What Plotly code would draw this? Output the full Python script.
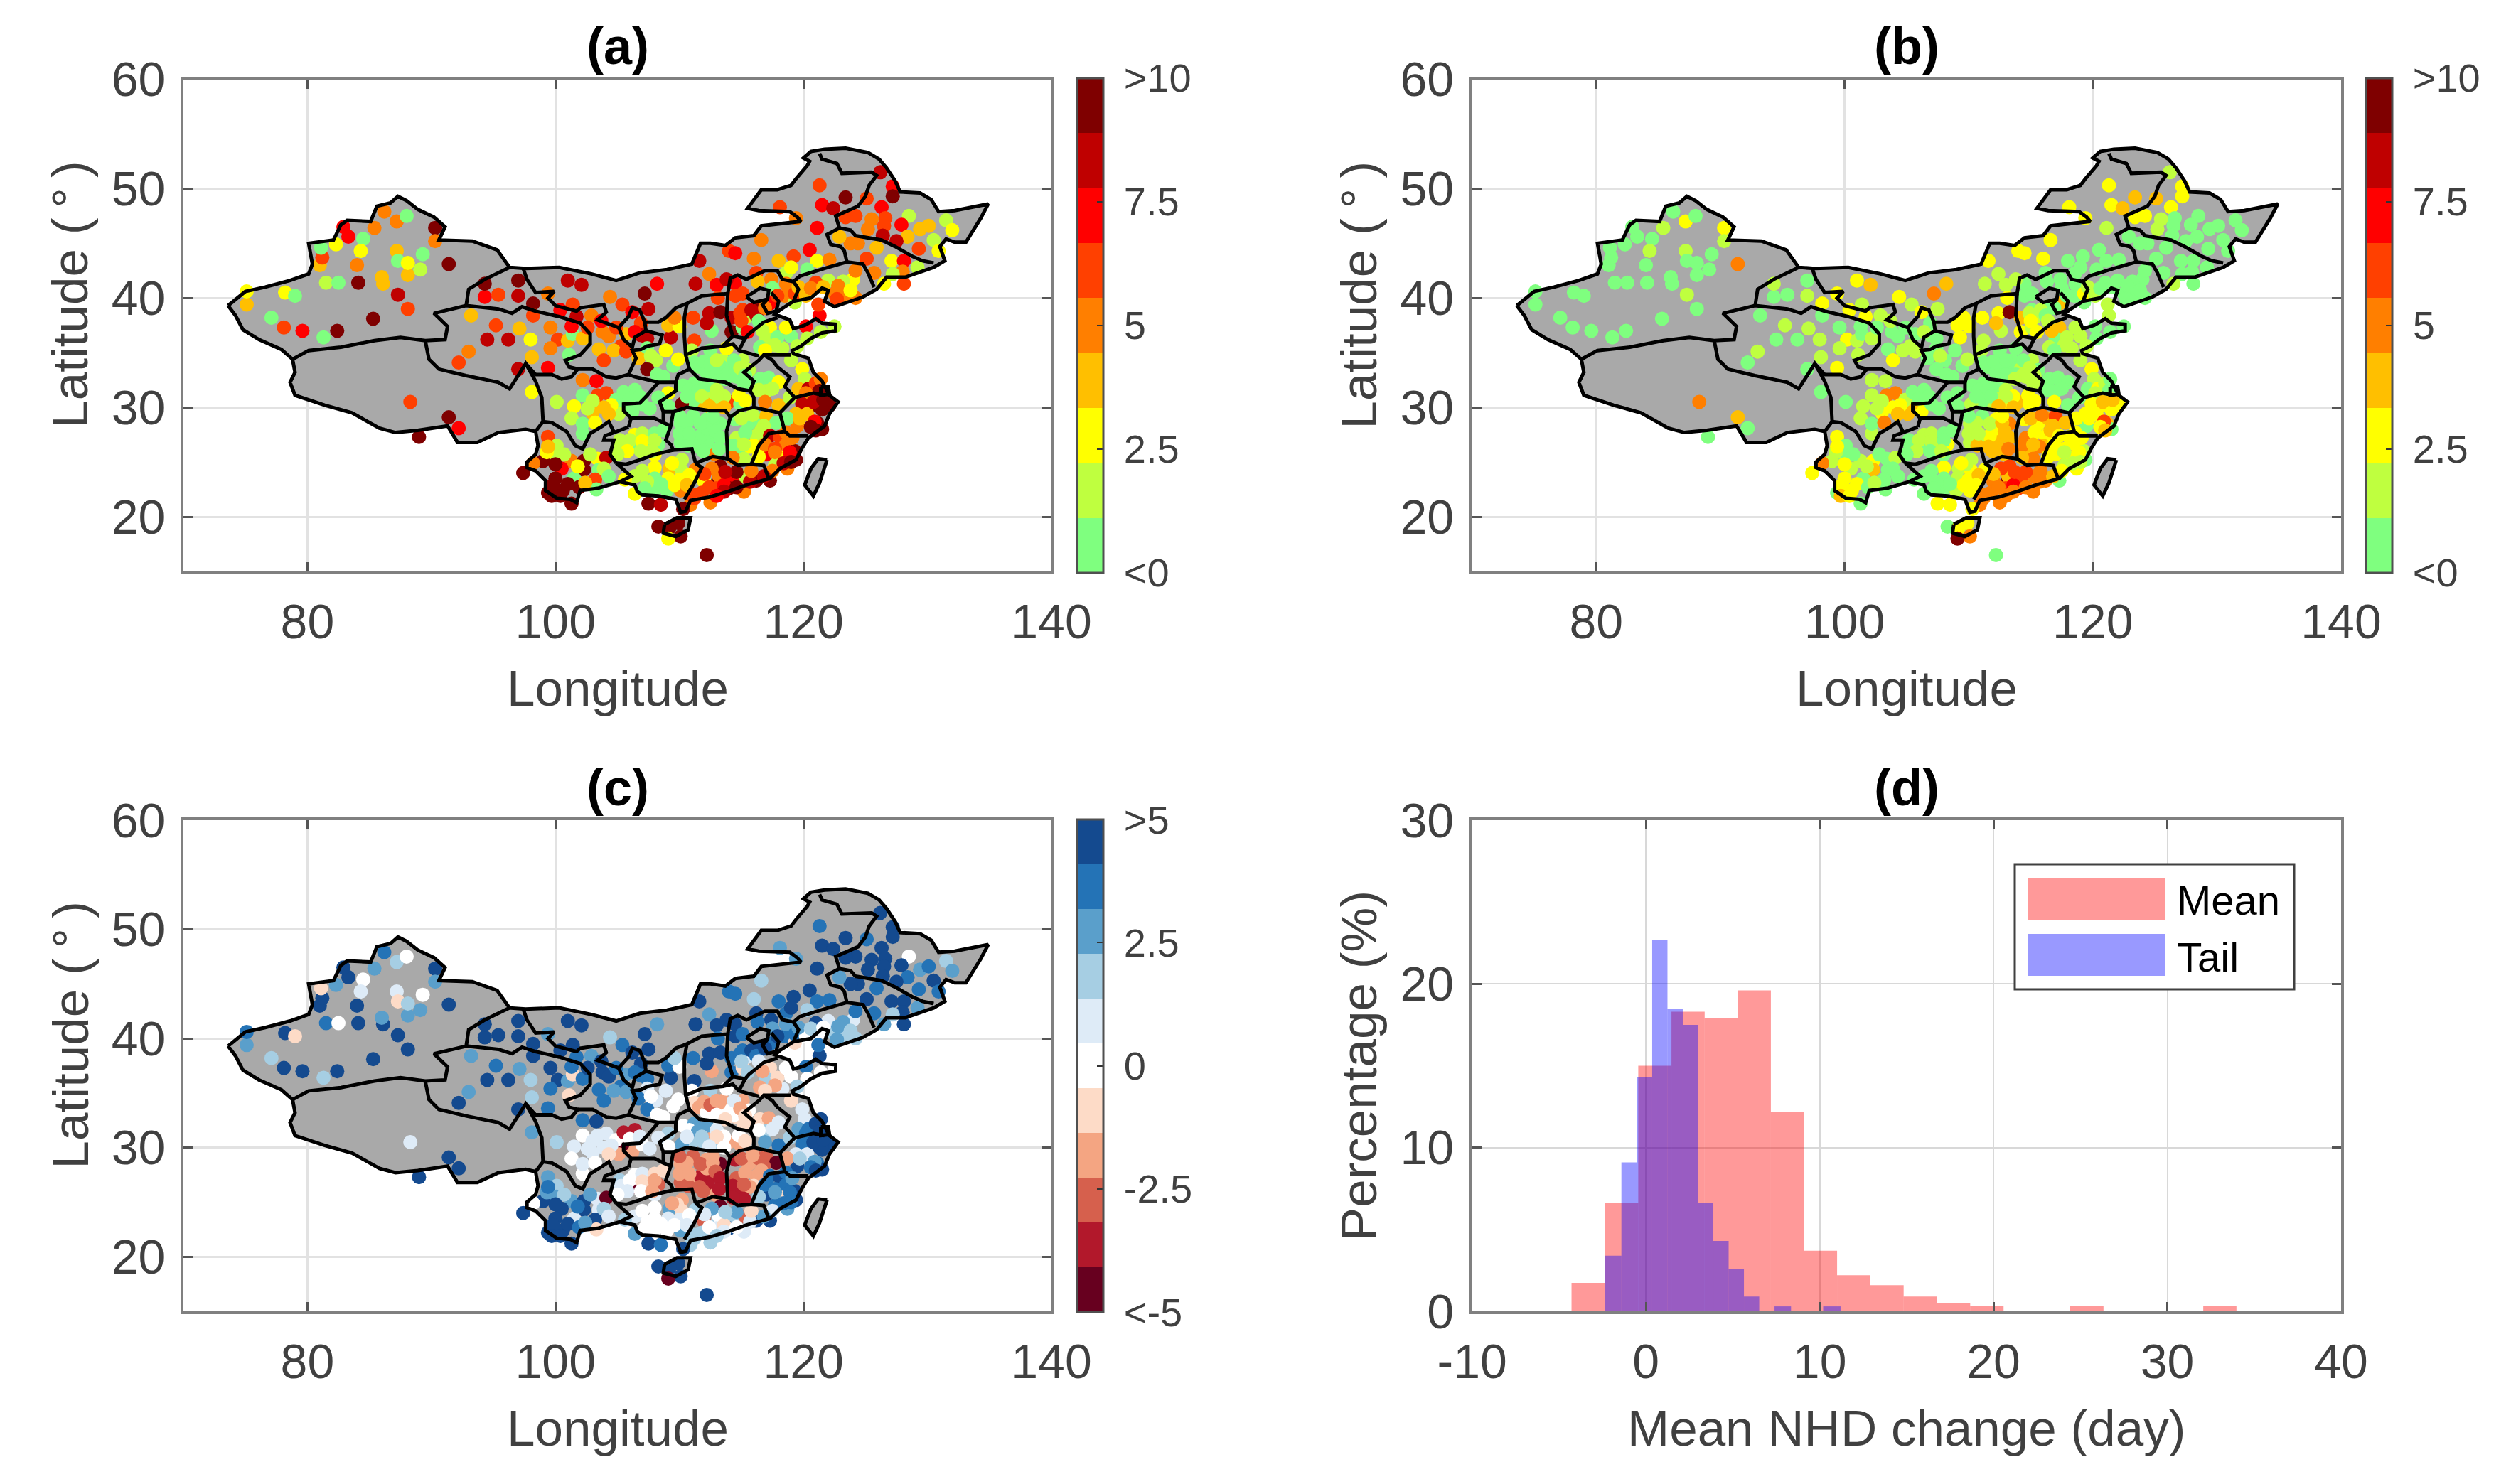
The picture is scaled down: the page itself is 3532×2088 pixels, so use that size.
import plotly.graph_objects as go

W, H = 3532, 2088
PAGE_INSET = 8  # the page's default body margin shifts the whole figure by this many pixels

# ---- map geometry (lon, lat) ----
CHINA_LON = [73.6,75.0,76.6,78.6,80.1,80.4,80.1,82.1,82.7,83.2,85.1,85.6,86.7,87.3,88.0,88.9,90.2,91.1,90.6,93.3,95.3,96.3,97.6,100.3,102.9,104.9,106.8,109.0,111.0,111.7,112.5,113.7,114.5,116.0,116.6,118.1,119.8,119.5,118.9,116.4,115.5,116.6,117.9,119.0,119.4,120.3,120.5,120.0,120.6,121.7,123.4,125.2,126.1,126.7,127.4,127.8,129.4,130.3,130.9,132.2,133.4,134.9,134.3,133.1,132.2,131.5,131.0,131.4,130.5,129.7,128.8,128.2,126.7,125.9,124.8,123.6,122.5,121.7,122.0,121.5,120.6,119.2,118.1,117.7,118.9,119.2,120.1,121.0,121.5,122.6,122.6,121.5,120.6,119.8,119.1,119.2,120.4,120.8,121.5,121.9,122.1,122.8,122.1,121.7,120.4,119.9,119.4,118.1,117.3,115.4,113.9,112.4,110.9,110.5,110.1,109.7,108.3,107.0,106.6,106.4,105.2,103.4,102.0,101.7,101.2,100.1,99.2,99.2,98.4,97.7,97.7,98.4,98.6,98.4,97.6,95.4,93.7,92.1,91.3,88.9,87.1,85.8,83.6,81.4,79.0,78.6,79.0,78.8,77.9,76.1,74.8,74.2,73.6]
CHINA_LAT = [39.3,40.6,41.0,41.6,42.2,43.1,45.0,45.3,46.7,47.1,47.0,48.4,48.7,49.3,48.9,48.1,47.4,46.5,45.3,45.2,44.4,42.8,42.7,42.8,42.2,41.6,42.3,42.6,43.1,45.0,45.0,44.8,45.5,45.7,46.6,46.8,47.0,47.4,47.9,48.0,48.2,49.9,49.9,50.3,50.9,52.1,52.5,52.8,53.4,53.6,53.7,53.3,52.7,51.9,50.7,49.7,49.6,49.0,47.9,48.0,48.3,48.6,47.3,45.1,45.1,45.4,44.7,43.4,42.8,42.5,42.1,41.9,41.9,40.8,40.1,39.6,39.2,39.7,40.7,40.9,40.0,39.7,38.9,38.5,38.0,37.2,37.5,38.1,37.7,37.6,37.0,36.8,36.3,35.6,35.2,34.9,34.5,33.2,32.4,31.5,31.1,30.5,29.4,28.3,27.2,26.3,25.2,24.4,23.5,22.9,22.3,21.8,21.5,20.5,20.4,21.6,21.9,22.0,22.3,22.9,23.2,22.6,22.4,21.3,21.6,21.7,22.4,23.3,24.2,24.5,25.0,25.7,26.5,27.8,28.0,27.7,26.8,26.8,28.3,27.9,27.7,28.1,29.5,30.2,31.1,32.3,33.2,34.4,35.3,36.2,37.1,38.4,39.3]
TAIWAN_LON = [121.9,121.2,120.6,120.1,120.8,121.3,121.9]
TAIWAN_LAT = [25.2,25.3,24.4,22.9,21.9,23.1,25.2]
HAINAN_LON = [108.8,109.8,110.9,110.7,109.7,108.7,108.8]
HAINAN_LAT = [19.3,19.9,19.9,18.8,18.2,18.5,19.3]

PROVINCE_LINES = [
 [(78.8,34.4),(80.1,35.2),(82.7,35.5),(85.4,36.1),(87.5,36.4),(89.5,36.1),(91.1,36.2),(91.3,37.4),(90.2,38.6),(92.8,39.3),(93.0,40.8),(94.3,41.7),(96.3,42.8)],
 [(89.5,36.1),(89.8,34.4),(90.6,33.5),(92.8,32.9),(95.4,32.3),(96.3,31.7),(97.6,34.0),(98.4,32.4),(98.9,30.9),(99.0,29.1),(99.0,28.7),(98.4,27.8)],
 [(92.8,39.3),(95.4,39.0),(96.5,38.6),(97.3,39.2),(98.4,38.8),(100.3,38.3),(102.0,37.7),(102.8,36.7),(102.8,35.8),(102.0,34.8),(100.8,34.3),(101.1,33.7),(101.8,33.5),(101.3,32.8),(100.5,32.6),(99.7,33.0),(98.4,33.0),(97.6,34.0)],
 [(97.4,42.7),(97.7,41.7),(98.4,40.5),(99.9,40.6),(99.4,40.0),(100.0,39.3),(101.7,38.8),(102.0,39.1),(103.9,39.4),(104.1,38.7),(103.4,38.0),(105.1,37.3)],
 [(101.8,33.5),(103.0,33.5),(104.1,32.8),(104.9,32.7),(105.9,33.0),(106.1,33.5),(106.5,34.5),(106.2,35.2),(106.9,35.3),(107.4,35.6),(108.4,35.8),(108.6,36.6),(107.3,37.0)],
 [(107.3,37.0),(106.4,36.4),(106.2,35.5),(105.5,36.2),(105.1,37.3),(105.9,38.3),(106.2,39.1),(106.8,38.9),(107.2,37.8),(107.3,37.0)],
 [(107.2,37.8),(108.3,37.8),(108.9,38.2),(109.7,39.1),(110.6,39.5),(111.8,40.2),(112.7,40.3),(113.9,40.4),(114.1,41.8),(114.7,42.1),(115.4,41.7),(116.9,42.5),(117.9,42.5),(118.3,41.7),(119.2,41.5),(119.7,42.0),(121.7,42.7),(123.5,43.3),(124.8,43.1),(125.2,42.3),(125.7,41.0)],
 [(110.6,39.5),(110.4,38.2),(110.4,36.5),(110.5,34.8),(110.8,33.5),(109.9,33.0),(109.7,32.3),(108.3,32.3),(106.4,32.8),(105.9,33.0)],
 [(113.9,40.4),(113.8,38.4),(114.3,36.5),(113.5,35.6),(111.8,35.4),(110.5,34.8)],
 [(110.8,33.5),(111.6,32.6),(113.7,32.3),(114.7,31.7),(115.7,31.5),(116.0,32.4),(115.2,33.2),(116.4,34.3),(116.8,34.8),(119.0,34.8)],
 [(113.5,35.6),(114.3,35.8),(114.8,35.2),(116.4,34.7)],
 [(114.3,36.5),(115.3,36.3),(114.8,35.2)],
 [(115.3,36.3),(115.6,36.7),(116.8,37.8),(117.9,38.2)],
 [(116.8,34.8),(117.5,34.3),(117.9,33.7),(118.9,32.8),(118.5,31.9),(119.3,30.9),(120.8,31.3),(121.7,31.1)],
 [(119.3,30.9),(118.1,29.5),(116.0,30.0),(116.0,30.9),(115.7,31.5)],
 [(118.1,29.5),(118.5,27.8),(118.9,27.4),(120.4,27.4)],
 [(118.5,27.8),(117.2,27.6),(116.4,26.5),(115.8,24.8),(116.8,24.7),(117.2,23.5)],
 [(115.8,24.8),(114.7,24.7),(113.9,25.3),(112.7,25.5),(111.3,24.9),(111.8,24.5),(111.2,23.1),(110.4,21.6)],
 [(116.0,30.0),(114.8,29.7),(114.1,29.1),(113.8,27.8),(113.9,25.3)],
 [(114.1,29.1),(113.7,29.7),(112.4,29.7),(110.6,30.0),(109.5,29.6),(109.3,28.3),(108.9,27.0),(109.3,26.6),(109.5,26.1),(111.0,26.2),(111.3,24.9)],
 [(109.5,26.1),(108.0,25.7),(106.8,25.2),(105.7,24.8),(104.9,24.9),(106.1,23.7),(105.2,23.2)],
 [(104.9,24.9),(104.4,25.7),(104.7,27.0),(103.9,27.0),(104.0,27.4),(105.0,27.8),(105.9,28.2)],
 [(99.0,28.7),(99.7,28.6),(100.9,27.8),(101.6,26.5),(102.2,26.2),(102.8,27.6),(103.8,28.3),(104.3,28.7),(104.7,27.8)],
 [(105.9,28.2),(106.1,29.0),(105.5,29.7),(105.5,30.3),(106.8,30.4),(107.4,31.1),(108.3,32.3)],
 [(106.1,29.0),(106.8,29.0),(108.0,29.0),(108.7,28.6),(109.3,28.3)],
 [(109.7,32.3),(109.7,31.5),(108.4,30.5),(108.7,29.6),(109.5,29.6)],
 [(108.7,29.6),(108.7,28.6)],
 [(119.2,41.5),(119.6,40.8),(119.2,39.7)],
 [(115.4,40.1),(116.5,40.9),(117.2,40.7),(117.1,39.9),(116.0,39.6),(115.4,40.1)],
 [(117.1,39.9),(116.7,39.4),(117.1,38.6),(117.8,38.8),(118.0,39.7),(117.4,40.5)],
 [(123.5,43.3),(123.3,44.3),(123.0,44.7),(122.2,44.9),(121.9,45.8),(122.9,46.4),(123.8,46.2),(124.2,45.7),(126.3,45.3),(127.4,44.7),(128.8,43.8),(129.6,43.4),(130.5,43.2)],
 [(122.9,46.4),(122.6,47.5),(124.4,48.4),(125.0,49.3),(125.3,50.3),(125.9,51.2),(125.5,51.5),(123.1,51.4),(122.7,52.3),(121.5,52.7),(121.3,53.2)],
 [(121.4,31.9),(122.0,31.9),(122.1,31.2),(121.4,31.1),(121.4,31.9)],
]

# ---- stations: lon, lat, band in (a), band in (b), band in (c) ----
XINJIANG = [
 (75.1,39.4,3,0,8),(75.1,40.6,2,0,9),(77.1,38.2,0,0,7),(78.1,37.3,5,0,10),(79.6,37.0,6,0,10),(81.3,36.4,0,0,7),(82.4,37.0,8,0,10),(85.3,38.1,8,0,10),
 (88.1,39.0,5,0,10),(87.3,40.3,7,1,10),(78.2,40.5,2,0,10),(79.0,40.2,0,0,4),(81.5,41.4,1,0,9),(82.5,41.4,0,0,5),(84.1,41.4,8,0,10),(86.1,41.3,3,0,10),
 (86.0,41.9,3,0,8),(88.1,42.1,3,0,8),(89.1,42.6,1,0,8),(91.4,43.1,8,4,10),(84.0,43.0,4,0,10),(81.0,43.0,3,0,10),(81.2,43.7,5,0,10),(82.3,44.9,2,0,8),
 (81.1,44.6,0,0,4),(83.3,45.6,6,0,10),(82.9,46.5,6,0,10),(84.5,45.4,0,0,5),(84.3,44.3,2,1,6),(85.4,46.4,4,1,8),(86.2,47.9,4,0,9),(87.2,47.0,4,2,7),
 (88.0,47.5,0,0,5),(90.3,46.4,8,2,10),(90.3,45.2,4,1,8),(87.2,44.3,3,1,6),(87.3,43.4,0,0,4),(88.1,43.2,2,0,7),(89.3,44.0,0,0,5),
]
NORTHWEST = [
 (94.3,40.1,6,0,10),(94.3,41.3,8,1,10),(95.4,40.3,5,0,10),(97.0,41.6,8,0,10),(97.0,40.2,7,1,10),(98.2,39.5,8,2,10),(101.0,41.6,7,2,10),(102.1,41.2,7,3,10),
 (104.4,40.1,4,2,7),(107.2,40.4,8,4,10),(108.2,41.3,6,3,8),(111.3,41.3,7,1,10),(105.4,39.4,5,1,9),(107.5,39.0,7,1,10),
 (93.2,38.4,3,0,8),(95.2,37.5,5,1,9),(94.5,36.2,7,0,10),(96.2,36.2,7,0,10),(97.1,37.2,3,1,8),(98.0,36.2,2,1,7),(93.0,35.1,4,1,8),(92.2,34.1,5,0,10),
 (98.1,34.6,3,1,7),(98.2,38.4,5,0,10),(99.6,37.3,4,0,10),(100.2,36.2,5,2,10),(101.0,36.1,3,1,8),(101.4,36.7,0,0,4),(99.6,35.4,4,1,9),(102.2,36.3,3,1,9),
 (101.1,34.8,0,1,4),(99.4,33.6,6,2,9),(97.0,33.5,7,0,10),
 (101.4,39.4,5,1,10),(99.4,40.4,4,2,8),(100.4,38.9,6,2,10),(101.7,38.3,7,2,9),(102.9,38.4,4,1,8),(101.3,37.4,6,0,9),(102.6,37.3,5,0,10),(103.8,36.9,4,0,10),
 (104.3,36.5,4,0,10),(105.7,36.7,3,0,8),(105.3,35.6,5,1,9),(104.7,35.2,3,1,8),(103.5,35.3,3,0,9),(103.9,34.3,5,2,9),(106.2,38.7,6,2,10),(106.9,37.7,5,0,10),
 (106.9,36.6,7,0,9),(107.4,36.3,7,0,9),(107.4,35.4,0,0,6),(108.1,34.3,1,0,6),(107.4,33.5,8,0,9),(108.2,33.0,0,0,5),(109.5,33.8,0,0,5),(109.9,34.4,2,1,5),
 (108.7,32.8,0,0,5),(109.3,36.4,7,2,10),(109.1,37.5,3,2,9),(110.0,37.4,2,2,5),(109.6,38.2,4,2,7),
 (103.7,37.9,6,1,10),(104.9,37.3,5,0,9),(106.4,36.9,6,1,9),(105.7,35.1,5,1,8),(106.7,34.5,3,0,9),(107.7,34.7,1,1,5),(108.9,35.2,2,0,6),
]
NORTH = [
 (111.1,38.2,5,2,9),(111.6,43.4,7,2,10),(112.4,42.2,4,1,8),(113.0,41.2,6,1,10),(114.0,44.3,5,2,9),(114.5,44.1,6,2,9),(116.0,43.6,4,2,7),(116.6,45.3,4,2,7),
 (118.0,43.4,3,0,9),(119.2,43.8,5,0,10),(120.5,44.4,6,0,10),(121.1,43.4,2,0,9),(122.1,43.5,4,0,9),(118.6,42.3,1,0,9),(119.0,42.8,2,0,10),(120.3,42.6,0,0,7),
 (116.2,42.3,5,0,10),(117.4,41.7,4,0,10),(116.3,41.5,3,0,9),(117.5,40.9,0,0,8),(114.5,41.3,6,0,10),(113.8,41.7,7,1,10),(114.5,40.2,5,0,10),(115.1,40.4,5,0,9),
 (113.1,40.0,5,2,9),(112.4,38.6,7,2,10),(113.3,38.7,8,8,10),(112.6,37.0,0,1,3),(112.2,37.7,7,3,10),(111.2,36.1,5,1,10),(111.0,35.2,1,1,5),(114.2,38.2,7,3,9),
 (114.2,36.9,8,2,9),(115.3,38.2,1,1,6),(115.1,37.3,0,1,4),(116.2,39.1,8,0,10),(117.3,39.5,6,3,9),(118.5,40.2,4,0,9),(119.3,39.6,1,0,4),(115.1,38.9,5,0,9),
 (117.3,37.3,2,3,4),(117.0,36.3,1,0,7),(116.5,35.5,0,1,3),(118.3,35.4,1,1,6),(119.0,36.5,0,1,5),(120.2,37.4,6,0,9),(121.3,38.4,6,1,10),(122.5,37.4,1,0,5),
 (114.9,38.6,5,1,9),(115.8,38.9,7,1,10),(116.2,38.4,7,0,9),(116.9,39.1,4,0,10),(117.9,40.2,5,0,10),(118.6,41.3,4,0,8),(119.3,40.4,5,2,9),(115.0,37.9,5,2,7),(115.5,36.9,6,2,7),(116.4,37.9,0,1,6),(116.7,37.0,1,3,3),
 (117.9,36.4,0,1,4),(118.6,37.3,2,1,5),(120.3,36.3,1,0,5),(119.5,35.6,1,1,7),(117.7,35.7,1,1,3),(116.9,35.2,2,0,4),(121.4,36.9,1,0,5),
]
CENTRAL = [
 (111.2,34.1,0,0,4),(111.6,33.7,0,0,3),(112.2,33.2,0,0,5),(112.9,33.6,0,0,2),(113.5,34.3,1,0,3),(113.4,33.7,0,0,3),(114.2,33.5,0,1,5),(113.8,35.4,2,0,5),
 (112.5,35.2,0,0,7),(114.6,32.8,0,1,4),(115.1,34.3,1,1,3),(114.4,34.3,0,0,6),(115.2,32.2,0,1,4),
 (115.6,33.4,1,0,5),(116.5,32.6,0,0,4),(117.2,32.7,0,0,3),(118.0,32.3,2,0,6),(117.0,31.5,1,0,7),(116.4,31.6,1,0,5),(117.5,31.7,1,0,6),(116.9,30.5,4,2,8),(118.0,30.2,3,0,9),(118.9,30.9,1,0,7),
 (110.3,32.0,0,0,5),(111.2,32.2,0,0,8),(112.3,31.2,1,1,3),(112.9,30.5,3,2,7),(114.0,30.5,5,3,3),(114.9,30.3,0,2,3),(112.0,30.4,3,1,7),(111.1,30.6,0,0,7),(110.2,30.3,8,1,8),(109.1,31.3,2,0,7),(109.1,30.1,0,0,5),(114.8,31.1,2,2,5),
 (110.1,28.5,0,1,3),(111.1,29.2,0,0,2),(112.2,28.9,0,2,3),(110.1,26.8,0,1,2),(111.2,27.2,0,1,3),(112.4,27.2,0,3,1),(112.3,26.6,0,3,1),(110.7,26.5,0,3,2),(112.9,25.7,4,3,3),(111.7,27.4,0,2,1),(112.2,28.1,0,2,3),(110.3,28.0,0,1,3),(113.3,28.5,0,4,0),
 (115.6,28.5,0,2,3),(116.4,29.0,0,3,2),(117.0,29.2,3,5,2),(117.8,28.6,0,3,0),(114.6,27.2,1,4,2),(116.2,27.4,1,2,3),(116.0,26.5,2,3,4),(114.8,25.7,0,3,1),(114.3,26.5,0,4,1),(114.5,28.9,0,2,1),
 (112.0,34.2,0,0,3),(112.5,33.9,0,0,2),(113.0,34.3,1,0,3),(113.0,33.0,0,0,5),(113.8,33.0,0,0,5),(114.4,33.0,0,1,5),(113.7,32.6,0,1,4),(114.9,33.6,1,1,3),(115.3,32.9,0,1,4),(112.6,32.5,0,0,5),
 (110.8,31.6,0,0,5),(111.5,31.5,0,0,8),(112.2,32.0,0,0,8),(113.0,31.6,1,1,6),(113.6,31.0,1,2,5),(113.0,31.0,1,1,4),(111.8,31.0,1,0,7),(110.6,31.0,0,0,6),(113.6,30.0,3,3,5),(112.4,30.1,3,3,6),(115.3,30.6,2,2,4),
 (110.6,28.6,0,1,3),(111.7,28.5,0,1,2),(112.7,28.6,0,3,3),(110.0,27.6,0,1,3),(110.8,27.6,0,1,3),(112.9,27.8,0,3,2),(113.3,27.2,0,3,1),(113.2,26.2,0,4,1),(111.6,26.4,0,3,2),(110.0,29.2,0,0,2),(112.7,29.2,0,2,3),(111.9,26.0,0,3,2),
 (115.0,29.0,1,3,2),(115.9,29.3,1,4,3),(116.8,28.3,1,3,2),(115.3,27.7,0,2,3),(115.7,26.4,2,4,3),(116.6,27.9,1,3,3),(115.2,26.6,1,3,2),(115.2,25.3,1,4,1),(114.3,25.4,4,3,1),
]
EAST_COAST = [
 (119.0,34.3,1,1,4),(119.9,33.5,2,2,6),(120.1,32.6,1,1,6),(119.6,31.7,3,0,8),(120.4,31.7,7,2,9),(121.0,32.2,5,1,10),(120.2,31.3,4,1,9),(121.4,32.6,4,0,10),
 (119.9,30.3,7,2,9),(121.3,31.5,8,0,10),(121.0,30.2,8,2,10),(122.1,30.2,8,2,10),(121.5,29.8,8,2,10),(119.4,29.4,3,2,6),(120.3,29.4,3,2,6),(119.5,28.3,4,0,10),(121.1,28.6,8,3,9),(121.5,28.0,8,0,10),(120.9,28.7,6,5,8),(118.7,29.0,0,2,3),
 (117.3,27.4,7,2,9),(118.1,27.3,5,2,10),(118.6,26.6,4,2,9),(117.0,25.7,6,2,10),(118.0,25.5,2,2,4),(116.9,26.6,4,2,9),(119.3,26.0,8,1,10),(119.4,25.2,8,0,10),(116.4,25.5,2,2,7),(118.7,24.4,4,2,8),(117.7,24.7,1,1,9),(117.3,23.3,8,0,10),
 (120.8,30.5,7,3,10),(121.6,30.7,8,3,10),(119.7,29.0,3,2,7),(120.6,28.2,8,2,9),(121.0,27.9,8,3,10),(118.6,27.7,4,2,9),(119.1,27.2,4,2,8),(117.7,26.2,5,2,9),(118.9,25.9,6,2,9),(117.7,25.9,4,1,8),(118.4,24.9,7,1,9),(117.5,24.2,4,2,6),(119.0,25.0,8,1,9),
]
SOUTHWEST = [
 (106.4,31.6,0,0,1),(106.2,29.6,0,2,3),(105.4,30.3,0,3,0),(104.1,31.3,5,4,6),(103.4,31.1,5,4,6),(102.2,32.5,4,1,9),(103.3,32.4,6,1,10),(102.2,31.1,0,1,5),(101.5,30.1,2,1,6),(100.1,30.5,1,0,7),(103.0,29.5,3,2,6),(101.3,29.0,1,1,5),(102.2,27.6,0,1,5),(102.2,28.5,0,0,6),(108.3,30.9,0,0,6),(98.1,31.4,2,0,8),
 (99.4,27.3,5,2,8),(100.1,26.5,1,0,7),(100.1,25.5,1,0,8),(99.0,25.1,8,1,10),(98.2,24.9,4,4,5),(97.4,24.0,8,2,10),(101.3,25.1,4,1,8),(102.3,25.1,8,2,10),(102.3,24.3,8,3,10),(103.4,25.3,2,0,6),(103.5,24.3,0,0,6),(100.5,24.4,6,1,10),(100.0,23.5,8,2,10),(101.5,23.5,0,0,6),(103.2,23.4,5,0,10),(103.3,22.5,0,0,4),(100.6,22.4,8,2,10),(99.4,22.2,8,0,10),(101.3,21.2,8,0,10),(99.8,22.9,8,2,10),(104.1,25.4,7,1,0),
 (105.2,27.0,1,0,7),(106.4,27.5,2,1,5),(107.0,27.6,1,1,6),(108.0,27.6,0,0,4),(106.4,26.4,0,0,0),(107.4,26.5,0,1,3),(108.3,26.6,0,2,2),(105.3,26.5,1,0,6),(108.0,25.7,2,0,6),
 (104.9,30.7,0,1,5),(105.5,31.4,0,0,1),(106.0,30.8,0,0,5),(105.1,29.4,1,3,3),(104.5,30.2,2,2,6),(103.9,30.0,3,2,6),(104.3,29.4,3,3,4),(103.0,30.6,1,1,6),(102.6,29.9,1,1,6),(103.2,28.6,2,4,5),(107.0,30.3,0,0,5),(107.6,29.9,0,0,6),(106.8,31.0,0,0,6),
 (106.0,27.0,1,1,5),(107.0,26.9,2,1,4),(108.0,27.0,1,0,3),(105.8,26.0,2,1,6),(106.9,26.0,1,0,5),(107.8,26.0,1,1,3),(108.7,27.9,0,0,4),(105.0,25.7,1,0,5),
 (100.7,25.7,1,0,7),(101.8,24.6,2,1,9),(101.0,23.0,8,2,10),(101.9,22.7,8,0,9),(100.0,24.8,8,2,10),(103.9,24.4,1,0,7),(104.3,23.7,0,0,6),(99.7,21.9,8,3,10),(100.4,21.9,8,2,10),(102.4,23.1,3,1,8),(99.3,25.9,2,1,8),(102.8,25.7,1,0,8),(99.4,26.4,3,2,9),
]
SOUTH = [
 (108.0,24.5,2,2,5),(109.2,24.4,3,1,8),(110.2,25.2,1,1,3),(110.2,24.2,1,2,4),(109.1,23.5,2,1,6),(108.0,23.5,0,0,5),(110.0,23.4,2,2,6),(106.4,23.7,1,0,6),(108.0,22.5,0,0,5),(109.0,22.4,0,1,5),(110.1,22.4,4,2,8),(111.3,24.3,4,2,7),(106.4,22.1,2,0,8),(107.5,21.2,8,2,10),(108.5,21.1,7,2,9),(105.6,23.4,2,0,7),
 (112.0,23.2,2,4,2),(113.1,23.2,8,8,7),(113.3,24.6,8,5,0),(114.3,23.6,6,5,7),(115.3,23.7,1,4,2),(116.2,23.3,8,4,10),(113.2,23.7,4,3,5),(111.8,22.2,5,4,7),(112.5,21.3,4,4,7),(110.9,21.1,4,4,7),(115.2,22.3,4,4,6),(114.0,22.6,8,5,10),(112.6,24.4,4,5,8),
 (107.0,24.2,1,0,5),(107.4,23.2,1,0,5),(109.8,24.8,1,1,4),(110.8,23.8,2,3,5),(109.6,22.9,2,2,5),(108.5,23.0,0,0,5),(107.2,22.6,0,0,5),(110.6,22.9,3,2,6),(109.4,24.9,2,2,3),
 (113.0,22.6,5,5,6),(113.6,22.9,6,6,4),(112.4,22.7,5,4,5),(111.3,22.0,5,4,7),(113.6,22.3,7,4,6),(114.6,24.1,8,5,8),(113.7,24.1,7,5,7),(115.7,23.2,7,4,6),(112.0,23.9,5,3,6),(116.8,23.7,7,3,8),(115.8,24.2,4,4,4),(111.2,21.7,5,4,7),(113.0,21.9,6,4,7),(114.6,22.7,8,4,5),
 (108.3,19.1,8,0,10),(109.9,19.4,8,2,10),(109.2,19.0,8,2,10),(110.1,18.2,8,4,10),(109.1,18.0,2,8,0),(110.3,20.7,8,2,10),(112.2,16.5,8,0,10),
]
TIBET = [(88.3,30.5,5,4,6),(91.4,29.1,8,3,10),(92.2,28.1,6,0,10),(89.0,27.3,8,0,10)]
NORTHEAST = [
 (121.3,50.3,5,2,9),(121.5,48.5,6,2,10),(123.4,49.2,8,3,10),(122.4,48.2,7,3,10),(118.1,48.3,5,2,8),(119.4,47.3,4,2,8),(121.1,46.4,6,1,10),
 (126.2,51.5,7,1,10),(127.2,50.2,6,2,10),(127.2,49.3,8,2,10),(125.1,49.1,5,3,9),(126.3,48.3,6,2,10),(126.6,47.3,5,0,10),(125.5,47.2,4,1,10),(124.2,47.5,5,2,10),(123.4,47.4,5,2,10),(125.2,46.3,4,1,10),(126.5,46.6,5,0,10),
 (128.5,47.5,1,0,5),(127.9,46.7,6,0,10),(129.4,46.3,3,0,8),(130.1,46.6,3,0,9),(128.4,45.6,3,0,9),(126.4,45.7,7,0,10),(127.5,45.2,7,0,10),(131.5,47.1,1,0,7),(132.0,46.2,2,0,8),(130.5,45.3,1,0,10),(129.3,44.5,5,0,9),(130.9,44.3,2,0,9),
 (125.9,44.6,3,0,9),(124.4,45.0,4,0,10),(123.8,45.0,4,0,10),(122.9,45.6,3,0,8),(125.1,43.6,5,0,10),(127.1,43.4,2,0,10),(128.1,43.4,6,0,10),(128.0,42.4,4,0,10),(127.2,42.2,1,0,7),(129.2,42.8,1,0,8),(125.7,42.3,4,0,9),(128.1,41.3,5,0,10),(126.5,41.3,2,1,8),
 (124.0,41.7,2,0,6),(123.2,41.5,1,0,8),(122.0,41.6,1,0,6),(121.0,41.4,5,0,10),(124.2,42.5,4,0,9),(123.4,40.2,4,0,7),(124.2,40.0,4,0,7),(120.2,40.2,3,1,5),(119.6,41.0,3,1,8),
 (120.6,40.9,4,0,7),(121.6,41.0,3,0,5),(122.5,40.4,4,0,7),(122.8,41.1,4,0,8),(121.2,39.4,5,1,9),(122.7,39.9,5,0,8),(123.8,40.7,2,0,7),
]

BANDS_DAYS = [0.5, 1.7, 2.8, 3.9, 5.0, 6.1, 7.2, 8.3, 9.5]
BANDS_DIFF = [-4.6, -3.6, -2.7, -1.8, -0.9, 0.0, 0.9, 1.8, 2.7, 3.6, 4.6]

# ---- panel (d) histograms ----
MEAN_EDGES = [-4.28,-2.36,-0.44,1.47,3.38,5.29,7.19,9.09,11.0,12.92,14.83,16.75,18.66,20.58,22.5,24.41,26.33,28.25,30.15,32.07,33.98]
MEAN_PCT = [1.74,6.6,15.0,18.3,17.9,19.6,12.2,3.7,2.2,1.6,0.9,0.5,0.3,0,0,0.3,0,0,0,0.3]
TAIL_EDGES = [-2.36,-1.41,-0.53,0.36,1.24,2.12,3.0,3.88,4.76,5.64,6.52,7.4,8.35,9.3,10.2,11.2]
TAIL_PCT = [3.4,9.1,14.3,22.7,18.5,17.5,6.6,4.3,2.6,0.9,0,0.3,0,0,0.3]
D_XTICKS = [-10, 0, 10, 20, 30, 40]

CS_DAYS = ["#7fff7f","#bfff3f","#ffff00","#ffbf00","#ff7f00","#ff4000","#ff0000","#bf0000","#7f0000"]
CS_DIFF = ["#67001f","#b2182b","#d6604d","#f4a582","#fddbc7","#ffffff","#deebf7","#a6cee3","#5a9fcb","#2473b6","#144a8f"]
GREY = "#a9a9a9"; GRID = "#e2e2e2"; AXC = "#808080"; TXT = "#404040"
TICK_SIZE, LABEL_SIZE, TITLE_SIZE, CB_SIZE = 68, 71, 72, 56
NB = "\u00a0"


def px(v):
    return (v - PAGE_INSET) / W


def py(v):
    return 1 - (v - PAGE_INSET) / H


def steps(cols):
    n = len(cols); out = []
    for i, c in enumerate(cols):
        out += [[i / n, c], [(i + 1) / n, c]]
    return out


def nlines(lines, k):
    o = []
    for ln in lines:
        o += [p[k] for p in ln] + [None]
    return o


rows = XINJIANG + NORTHWEST + NORTH + CENTRAL + EAST_COAST + SOUTHWEST + SOUTH + TIBET + NORTHEAST
LON = [r[0] for r in rows]
LAT = [r[1] for r in rows]
VAL_A = [BANDS_DAYS[r[2]] for r in rows]
VAL_B = [BANDS_DAYS[r[3]] for r in rows]
VAL_C = [BANDS_DIFF[r[4]] for r in rows]

PANELS = {
    "a": dict(x0=258, x1=1479, y0=111.5, y1=804, cb=1515, cbt=110, cbb=805.6, val=VAL_A, cols=CS_DAYS, cmin=0, cmax=10,
              tv=[0, 2.5, 5, 7.5, 10], tt=["<0", "2.5", "5", "7.5", ">10"]),
    "b": dict(x0=2070.7, x1=3293, y0=111.5, y1=804, cb=3327.7, cbt=110, cbb=805.6, val=VAL_B, cols=CS_DAYS, cmin=0, cmax=10,
              tv=[0, 2.5, 5, 7.5, 10], tt=["<0", "2.5", "5", "7.5", ">10"]),
    "c": dict(x0=258, x1=1479, y0=1154, y1=1845, cb=1515, cbt=1153, cbb=1846, val=VAL_C, cols=CS_DIFF, cmin=-5, cmax=5,
              tv=[-5, -2.5, 0, 2.5, 5], tt=["<-5", "-2.5", "0", "2.5", ">5"]),
}
D = dict(x0=2070.7, x1=3293, y0=1154, y1=1845)

fig = go.Figure()
layout = dict(width=W, height=H, margin=dict(l=0, r=0, t=0, b=0, autoexpand=False), paper_bgcolor="white", plot_bgcolor="white",
              showlegend=False, barmode="overlay", font=dict(family="Liberation Sans", color=TXT),
              annotations=[], shapes=[])


def axis_common():
    return dict(showgrid=True, gridcolor=GRID, gridwidth=3, showline=True, linecolor=AXC, linewidth=4, mirror="ticks",
                ticks="inside", ticklen=13, tickwidth=3, tickcolor="#555555", zeroline=False, automargin=False, ticklabelstandoff=8,
                tickfont=dict(size=TICK_SIZE, color=TXT, family="Liberation Sans"))


def note(text, xpx, ypx, size, angle=0, color=TXT, bold=False, xanchor="center"):
    return dict(text=f"<b>{text}</b>" if bold else text, x=px(xpx), y=py(ypx), xref="paper", yref="paper", xanchor=xanchor, yanchor="middle",
                showarrow=False, textangle=angle, font=dict(size=size, color=color))


for i, (name, p) in enumerate(PANELS.items(), start=1):
    xa, ya = f"x{i}", f"y{i}"
    for lon, lat in [(CHINA_LON, CHINA_LAT), (TAIWAN_LON, TAIWAN_LAT), (HAINAN_LON, HAINAN_LAT)]:
        fig.add_trace(go.Scatter(x=lon, y=lat, mode="lines", fill="toself", fillcolor=GREY,
                                 line=dict(color="rgba(0,0,0,0)", width=0), xaxis=xa, yaxis=ya, hoverinfo="skip"))
    fig.add_trace(go.Scatter(
        x=LON, y=LAT, mode="markers", xaxis=xa, yaxis=ya, name=f"({name})",
        marker=dict(size=20, color=p["val"], colorscale=steps(p["cols"]), cmin=p["cmin"], cmax=p["cmax"], line=dict(width=0),
                    colorbar=dict(x=px(p["cb"]), xanchor="left", xpad=0, y=py(p["cbb"]), yanchor="bottom", ypad=0,
                                  len=(p["cbb"] - p["cbt"]) / H, lenmode="fraction", thickness=37, thicknessmode="pixels",
                                  outlinecolor="#505050", outlinewidth=3, ticks="inside", ticklen=10, tickwidth=2, tickcolor="#333333",
                                  tickvals=p["tv"], ticktext=[NB + t for t in p["tt"]], tickfont=dict(size=CB_SIZE, color=TXT, family="Liberation Sans")))))
    for lon, lat in [(CHINA_LON, CHINA_LAT), (TAIWAN_LON, TAIWAN_LAT), (HAINAN_LON, HAINAN_LAT),
                     (nlines(PROVINCE_LINES, 0), nlines(PROVINCE_LINES, 1))]:
        fig.add_trace(go.Scatter(x=lon, y=lat, mode="lines", line=dict(color="black", width=5), xaxis=xa, yaxis=ya, hoverinfo="skip"))
    ax = axis_common()
    layout[f"xaxis{i}"] = dict(ax, domain=[px(p["x0"]), px(p["x1"])], range=[70, 140], tickvals=[80, 100, 120, 140], anchor=ya)
    layout[f"yaxis{i}"] = dict(ax, domain=[py(p["y1"]), py(p["y0"])], range=[15, 60], tickvals=[20, 30, 40, 50, 60], anchor=xa)
    mx = (p["x0"] + p["x1"]) / 2
    layout["annotations"] += [
        note("Longitude", mx, p["y1"] + 164, LABEL_SIZE),
        note("Latitude (\u2009°\u2009)", p["x0"] - 159, (p["y0"] + p["y1"]) / 2 - 43, LABEL_SIZE, angle=-90),
        note(f"({name})", mx, p["y0"] - 46, TITLE_SIZE, color="black", bold=True),
    ]

# panel (d)
mid = lambda e: [(a + b) / 2 for a, b in zip(e[:-1], e[1:])]
wid = lambda e: [b - a for a, b in zip(e[:-1], e[1:])]
fig.add_trace(go.Bar(x=mid(MEAN_EDGES), y=MEAN_PCT, width=wid(MEAN_EDGES), name="Mean", marker=dict(color="rgba(255,0,0,0.4)", line=dict(width=0)), xaxis="x4", yaxis="y4"))
fig.add_trace(go.Bar(x=mid(TAIL_EDGES), y=TAIL_PCT, width=wid(TAIL_EDGES), name="Tail", marker=dict(color="rgba(0,0,255,0.4)", line=dict(width=0)), xaxis="x4", yaxis="y4"))
ax = axis_common()
ax["gridwidth"] = 2
ax["gridcolor"] = "#d8d8d8"
layout["xaxis4"] = dict(ax, domain=[px(D["x0"]), px(D["x1"])], range=[-10, 40], tickvals=D_XTICKS, ticktext=[str(v) for v in D_XTICKS], anchor="y4")
layout["yaxis4"] = dict(ax, domain=[py(D["y1"]), py(D["y0"])], range=[0, 30], tickvals=[0, 10, 20, 30], anchor="x4")
mx = (D["x0"] + D["x1"]) / 2
layout["annotations"] += [
    note("Mean NHD change (day)", mx, D["y1"] + 164, LABEL_SIZE),
    note("Percentage (%)", D["x0"] - 159, (D["y0"] + D["y1"]) / 2, LABEL_SIZE, angle=-90),
    note("(d)", mx, D["y0"] - 46, TITLE_SIZE, color="black", bold=True),
]

# legend box of panel (d)
def pr(shape_type, x0, y0, x1, y1, **kw):
    return dict(type=shape_type, xref="paper", yref="paper", x0=px(x0), x1=px(x1), y0=py(y0), y1=py(y1), **kw)

layout["shapes"] += [
    pr("rect", 2834, 1216, 3227, 1392, fillcolor="white", line=dict(color="#404040", width=3)),
    pr("rect", 2853, 1235, 3046, 1294, fillcolor="#ff9999", line=dict(width=0)),
    pr("rect", 2853, 1314, 3046, 1373, fillcolor="#9999ff", line=dict(width=0)),
]
for label, yy in [("Mean", 1266), ("Tail", 1346)]:
    layout["annotations"].append(note(label, 3060, yy, 58, color="black", xanchor="left"))

fig.update_layout(**layout)
fig.write_html("out.html")
